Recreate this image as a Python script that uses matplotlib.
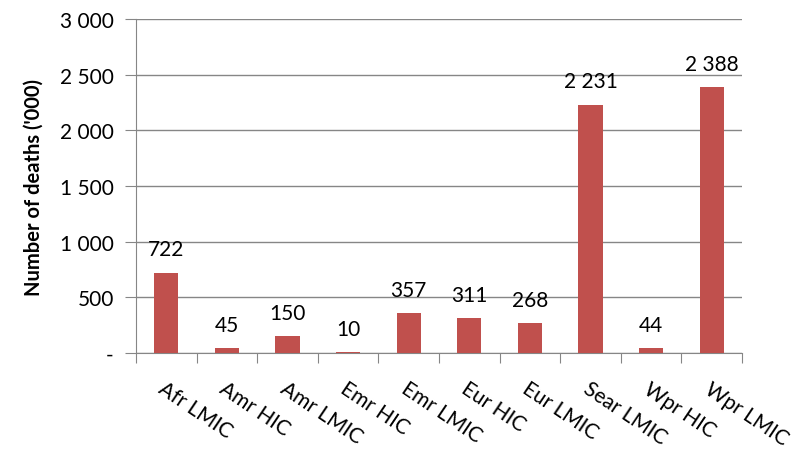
import matplotlib.pyplot as plt
import numpy as np

categories = ["Afr LMIC", "Amr HIC", "Amr LMIC", "Emr HIC", "Emr LMIC",
              "Eur HIC", "Eur LMIC", "Sear LMIC", "Wpr HIC", "Wpr LMIC"]
deaths = [722, 45, 150, 10, 357, 311, 268, 2231, 44, 2388]
yticks = [0, 500, 1000, 1500, 2000, 2500, 3000]
ytick_labels = ["-", "500", "1 000", "1 500", "2 000", "2 500", "3 000"]

plt.rcParams['font.family'] = ['Lato', 'DejaVu Sans']
grey = '#868686'

fig = plt.figure(figsize=(7.98, 4.52), dpi=100)
ax = fig.add_axes([136 / 798, 1 - 354 / 452, 606 / 798, 334 / 452])

x = np.arange(len(categories))
ax.bar(x, deaths, width=0.4, color='#C0504D', zorder=3)
for xi, v in zip(x, deaths):
    ax.text(xi, v + 120, f"{v:,}".replace(",", " "), ha='center', va='bottom', fontsize=15)

ax.set_xlim(-0.5, len(categories) - 0.5)
ax.set_ylim(0, 3000)
ax.set_yticks(yticks)
ax.set_yticklabels(ytick_labels, fontsize=15)
ax.yaxis.grid(True, color=grey, linewidth=1, zorder=0)

ax.set_xticks(np.arange(len(categories) + 1) - 0.5)
ax.set_xticklabels([])
ax.set_xticks(x, minor=True)
ax.set_xticklabels(categories, minor=True, rotation=-34, ha='left', va='top',
                   rotation_mode='anchor', fontsize=15)
ax.tick_params(axis='x', which='minor', length=0, pad=18)
ax.tick_params(axis='x', which='major', length=7, color=grey)
ax.tick_params(axis='y', length=8, color=grey, pad=8)

for s in ['top', 'right']:
    ax.spines[s].set_visible(False)
for s in ['left', 'bottom']:
    ax.spines[s].set_color(grey)

ax.set_ylabel("Number of deaths ('000)", fontsize=14.5, fontweight='bold', labelpad=12)

fig.savefig("out.png", dpi=100)
